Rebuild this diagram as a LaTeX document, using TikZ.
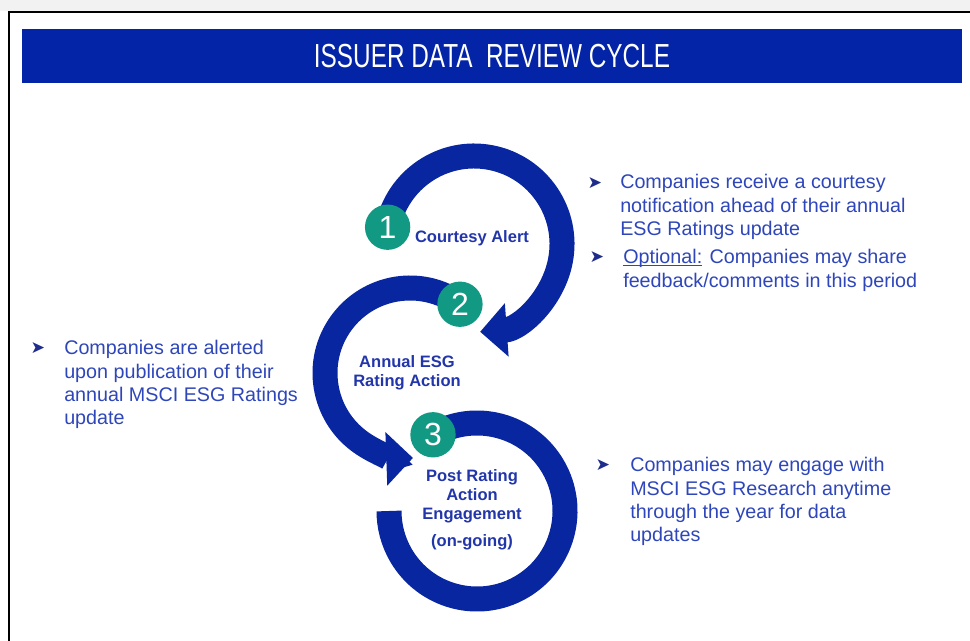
\documentclass[tikz,border=0pt]{standalone}
\usepackage{fontspec}
\setmainfont{Liberation Sans}
\newfontfamily\titlefont[FakeStretch=0.73]{Liberation Sans}
\newfontfamily\symfont{DejaVu Sans}
\usetikzlibrary{%
  arrows.meta,%
  calc%
}
\definecolor{barblue}{RGB}{4,36,168}
\definecolor{ringblue}{RGB}{8,38,160}
\definecolor{badgeteal}{RGB}{18,153,131}
\definecolor{textblue}{RGB}{46,70,186}
\definecolor{labelblue}{RGB}{34,54,170}
\definecolor{bulletblue}{RGB}{30,44,140}
\newcommand\optline[1]{\setbox0\hbox{#1}\rlap{\rule[-1.6pt]{\wd0}{0.6pt}}#1}
\tikzset{
  ring/.style={line width=18.75pt,draw=ringblue},
  ringarrow/.style={ring,-{Triangle[width=39pt,length=20pt]}},
  badge/.style={circle,fill=badgeteal,text=white,minimum size=34pt,inner sep=0pt,
    font=\fontsize{24}{24}\selectfont},
  steplabel/.style={text=labelblue,font=\bfseries\fontsize{12.4}{14.3}\selectfont,align=center},
  note/.style={text=textblue,font=\fontsize{14.8}{17.6}\selectfont,align=left,
    anchor=north west,inner sep=0pt},
  bullet/.style={text=bulletblue,font=\symfont\fontsize{13}{13}\selectfont,inner sep=0pt},
  title/.style={text=white,font=\titlefont\fontsize{25}{25}\selectfont}
}

\begin{document}
\begin{tikzpicture}[x=0.75pt,y=-0.75pt]
        \useasboundingbox (0,0) rectangle (970,641);
        \fill[gray!10] (0,0) rectangle (970,11);
        \draw[line width=1.5pt] (9,641) -- (9,12) -- (970,12);
        \fill[barblue] (22,29) rectangle (962,83);
        \node[title] (title) at (492,56) {ISSUER DATA\ \ REVIEW CYCLE};

        \coordinate (ring1) at (474,244);
        \coordinate (ring2) at (410,373);
        \coordinate (ring3) at (477,511);
        \coordinate (p1) at ($(ring1)+(-169:88)$);
        \coordinate (p2) at ($(ring2)+(-54:85)$);
        \coordinate (p3) at ($(ring3)+(-120:88)$);

        \draw[ring] (p3) arc[start angle=-120,end angle=180,radius=88];
        \draw[ringarrow] (p2) arc[start angle=-54,end angle=-272,radius=85];
        \draw[ringarrow] (p1) arc[start angle=-169,end angle=86,radius=88];

        \node[badge] (b1) at (p1) {1};
        \node[badge] (b2) at (p2) {2};
        \node[badge] (b3) at (p3) {3};

        \node[steplabel] (l1) at (472,238) {Courtesy Alert};
        \node[steplabel] (l2) at (407,373) {Annual ESG\\Rating Action};
        \node[steplabel] (l3) at (472,510) {Post Rating\\Action\\Engagement\\[6pt](on-going)};

        \node[bullet] (k1) at (595,183) {➤};
        \node[note] (n1) at (620,174) {Companies receive a courtesy\\notification ahead of their annual\\ESG Ratings update};
        \node[bullet] (k2) at (597,257) {➤};
        \node[note] (n2) at (623,249) {\optline{Optional:} Companies may share\\feedback/comments in this period};
        \node[bullet] (k3) at (38,348) {➤};
        \node[note] (n3) at (64,340) {Companies are alerted\\upon publication of their\\annual MSCI ESG Ratings\\update};
        \node[bullet] (k4) at (603,465) {➤};
        \node[note] (n4) at (630,457) {Companies may engage with\\MSCI ESG Research anytime\\through the year for data\\updates};
      \end{tikzpicture}
\end{document}
